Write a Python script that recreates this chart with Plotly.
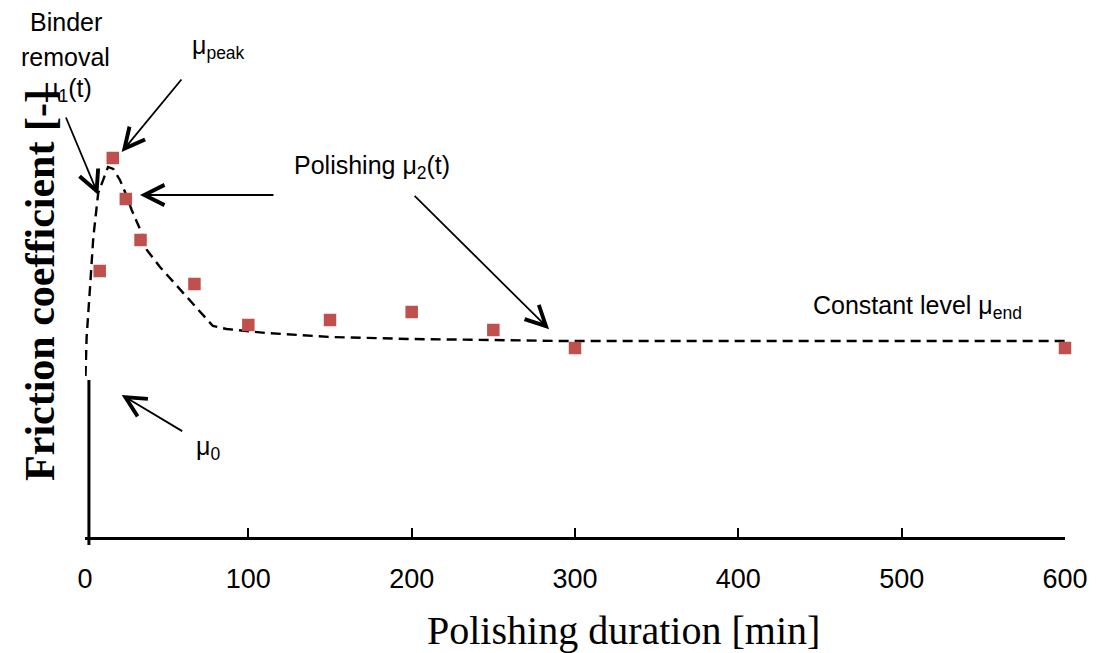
import plotly.graph_objects as go

# Measured friction coefficients (red squares)
time_min = [-1.5, 9, 17, 25, 34, 67, 100, 150, 200, 250, 300, 600]
friction = [0.150, 0.266, 0.379, 0.338, 0.297, 0.253, 0.212, 0.217, 0.225, 0.207, 0.189, 0.189]

# Model curve (dashed)
model_t = [0.3, 1.0, 3.1, 5.1, 8.1, 14.1, 17.3, 21.4, 24.5, 28.6, 34.7, 37.9, 45.9,
           62.2, 75.3, 78.3, 86.7, 111.2, 149.9, 198.9, 249.7, 290.7, 601.6]
model_mu = [0.161, 0.200, 0.250, 0.300, 0.344, 0.370, 0.368, 0.357, 0.345, 0.327, 0.304, 0.287, 0.270,
            0.240, 0.217, 0.211, 0.208, 0.204, 0.200, 0.198, 0.197, 0.196, 0.196]

# Vertical start marker line (t = 0)
start_line_x = 2.4
start_line_y_paper = [-0.016, 0.314]

x_ticks = [0, 100, 200, 300, 400, 500, 600]
x_tick_labels = ["0", "100", "200", "300", "400", "500", "600"]

x_title = "Polishing duration [min]"
y_title = "Friction coefficient [-]"

ANN_FONT = dict(family="Liberation Sans, Arial, sans-serif", size=25, color="black")

fig = go.Figure()

fig.add_trace(go.Scatter(
    x=model_t, y=model_mu, mode="lines",
    line=dict(color="black", width=2.4, dash="10px,6px"),
    hoverinfo="skip", showlegend=False,
))
fig.add_trace(go.Scatter(
    x=time_min, y=friction, mode="markers",
    marker=dict(symbol="square", size=12.5, color="#C0504D"),
    cliponaxis=False, showlegend=False,
))

fig.add_shape(type="line", xref="x", yref="paper",
              x0=start_line_x, x1=start_line_x,
              y0=start_line_y_paper[0], y1=start_line_y_paper[1],
              line=dict(color="black", width=3))

# Text labels inside the data range
texts = [
    ("μ<sub>peak</sub>", 82, 0.490),
    ("Polishing μ<sub>2</sub>(t)", 175.6, 0.370),
    ("Constant level μ<sub>end</sub>", 509.8, 0.230),
    ("μ<sub>0</sub>", 75.3, 0.089),
]
for t, x, y in texts:
    fig.add_annotation(x=x, y=y, xref="x", yref="y", text=t, showarrow=False,
                       xanchor="center", yanchor="middle", font=ANN_FONT)

# Text labels left of the axis (paper coordinates)
paper_texts = [
    ("Binder", -0.0194, 1.030),
    ("removal", -0.0194, 0.960),
    ("μ<sub>1</sub>(t)", -0.0173, 0.894),
]
for t, x, y in paper_texts:
    fig.add_annotation(x=x, y=y, xref="paper", yref="paper", text=t, showarrow=False,
                       xanchor="center", yanchor="middle", font=ANN_FONT)

# Arrows: (head_x, head_y, tail offset px)
arrows = [
    (8.14, 0.342, -33, -79),
    (22.46, 0.385, 61, -74),
    (33.66, 0.342, 135, 0),
    (284.15, 0.2077, -136, -135),
    (22.46, 0.142, 62, 37),
]
for hx, hy, ax, ay in arrows:
    fig.add_annotation(x=hx, y=hy, xref="x", yref="y", text="", showarrow=True,
                       ax=ax, ay=ay, axref="pixel", ayref="pixel",
                       arrowhead=5, arrowsize=2.2, arrowwidth=1.8, arrowcolor="black",
                       standoff=0)

# Axis titles
fig.add_annotation(x=0.549, y=-0.186, xref="paper", yref="paper", text=x_title,
                   showarrow=False, xanchor="center", yanchor="middle",
                   font=dict(family="Liberation Serif, Times New Roman, serif", size=40, color="black"))
fig.add_annotation(x=-0.046, y=0.504, xref="paper", yref="paper", text=y_title,
                   showarrow=False, xanchor="center", yanchor="middle", textangle=-90,
                   font=dict(family="Liberation Serif, Times New Roman, serif", size=42,
                             color="black", weight=700))

fig.update_xaxes(range=[0, 600], tickvals=x_ticks, ticktext=x_tick_labels,
                 showline=True, linewidth=3, linecolor="black",
                 ticks="inside", ticklen=9, tickwidth=2, tickcolor="black",
                 showgrid=False, zeroline=False, ticklabelstandoff=16,
                 tickfont=dict(family="Liberation Sans, Arial, sans-serif",
                               size=27, color="black"))
fig.update_yaxes(range=[0, 0.5], visible=False, showgrid=False, zeroline=False)

# Page body has an 8px default margin; margins compensate so the plot area lands at
# x 85..1065, y 37..537 in the browser window.
fig.update_layout(width=1115, height=653,
                  margin=dict(l=77, r=58, t=29, b=124),
                  paper_bgcolor="white", plot_bgcolor="white",
                  showlegend=False)

fig.write_html("out.html")
